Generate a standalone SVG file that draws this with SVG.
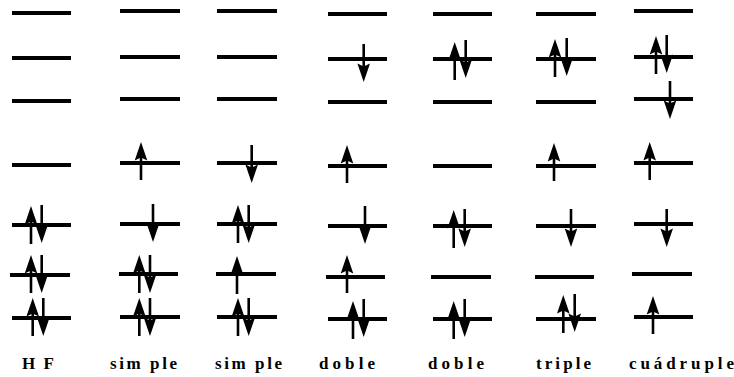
<svg xmlns="http://www.w3.org/2000/svg" xmlns:xlink="http://www.w3.org/1999/xlink" width="734" height="377" viewBox="0 0 734 377">
<style>
.lv{stroke:#000;stroke-width:4;fill:none}
.sh{stroke:#000;stroke-width:2.6;fill:none}
.hd{fill:#000;stroke:none}
.lb{font-family:"Liberation Serif","Times New Roman",serif;font-weight:bold;font-size:17px;fill:#000}
</style>
<defs>
<g id="up"><line class="sh" x1="0" y1="14" x2="0" y2="38"/><polygon class="hd" points="0,0 6.3,18.5 0,15.5 -6.3,18.5"/></g>
<g id="dn"><line class="sh" x1="0" y1="-14" x2="0" y2="-38"/><polygon class="hd" points="0,0 6.3,-18.5 0,-15.5 -6.3,-18.5"/></g>
</defs>
<rect width="734" height="377" fill="#fff"/>
<g id="col-hf">
<line class="lv" x1="12" y1="13" x2="71" y2="13"/>
<line class="lv" x1="12" y1="58" x2="71" y2="58"/>
<line class="lv" x1="12" y1="101" x2="71" y2="101"/>
<line class="lv" x1="12" y1="165" x2="71" y2="165"/>
<line class="lv" x1="12" y1="225" x2="71" y2="225"/>
<line class="lv" x1="10" y1="275" x2="70" y2="275"/>
<line class="lv" x1="12" y1="318" x2="71" y2="318"/>
<use xlink:href="#up" x="31" y="206"/><use xlink:href="#dn" x="41.7" y="243"/>
<use xlink:href="#up" x="31" y="255"/><use xlink:href="#dn" x="41.7" y="293"/>
<use xlink:href="#up" x="32.7" y="298"/><use xlink:href="#dn" x="43.3" y="336"/>
</g>
<g id="col-simple1">
<line class="lv" x1="120" y1="11" x2="180" y2="11"/>
<line class="lv" x1="120" y1="57" x2="180" y2="57"/>
<line class="lv" x1="120" y1="99" x2="180" y2="99"/>
<line class="lv" x1="120" y1="163" x2="180" y2="163"/>
<line class="lv" x1="120" y1="224" x2="180" y2="224"/>
<line class="lv" x1="119" y1="274" x2="178" y2="274"/>
<line class="lv" x1="120" y1="317" x2="180" y2="317"/>
<use xlink:href="#up" x="141" y="142"/>
<use xlink:href="#dn" x="153" y="242"/>
<use xlink:href="#up" x="139.3" y="255"/><use xlink:href="#dn" x="150" y="293"/>
<use xlink:href="#up" x="139.3" y="298"/><use xlink:href="#dn" x="150" y="336"/>
</g>
<g id="col-simple2">
<line class="lv" x1="217" y1="11" x2="277" y2="11"/>
<line class="lv" x1="217" y1="57" x2="277" y2="57"/>
<line class="lv" x1="217" y1="99" x2="277" y2="99"/>
<line class="lv" x1="217" y1="163" x2="277" y2="163"/>
<line class="lv" x1="217" y1="224" x2="277" y2="224"/>
<line class="lv" x1="216" y1="274" x2="276" y2="274"/>
<line class="lv" x1="217" y1="317" x2="277" y2="317"/>
<use xlink:href="#dn" x="251.7" y="183"/>
<use xlink:href="#up" x="238" y="205"/><use xlink:href="#dn" x="248.7" y="243"/>
<use xlink:href="#up" x="237" y="256"/>
<use xlink:href="#up" x="238" y="298"/><use xlink:href="#dn" x="248.7" y="336"/>
</g>
<g id="col-doble1">
<line class="lv" x1="328" y1="14" x2="387" y2="14"/>
<line class="lv" x1="328" y1="59" x2="387" y2="59"/>
<line class="lv" x1="328" y1="102" x2="387" y2="102"/>
<line class="lv" x1="328" y1="166" x2="387" y2="166"/>
<line class="lv" x1="328" y1="226" x2="387" y2="226"/>
<line class="lv" x1="326" y1="277" x2="385" y2="277"/>
<line class="lv" x1="328" y1="319" x2="387" y2="319"/>
<use xlink:href="#dn" x="363.7" y="82"/>
<use xlink:href="#up" x="347" y="145"/>
<use xlink:href="#dn" x="365" y="244"/>
<use xlink:href="#up" x="347" y="255"/>
<use xlink:href="#up" x="353" y="301"/><use xlink:href="#dn" x="363.7" y="337"/>
</g>
<g id="col-doble2">
<line class="lv" x1="433" y1="14" x2="492" y2="14"/>
<line class="lv" x1="433" y1="59" x2="492" y2="59"/>
<line class="lv" x1="433" y1="102" x2="492" y2="102"/>
<line class="lv" x1="433" y1="166" x2="492" y2="166"/>
<line class="lv" x1="433" y1="226" x2="492" y2="226"/>
<line class="lv" x1="431" y1="277" x2="491" y2="277"/>
<line class="lv" x1="433" y1="319" x2="492" y2="319"/>
<use xlink:href="#up" x="454.7" y="42"/><use xlink:href="#dn" x="465.7" y="78"/>
<use xlink:href="#up" x="453.7" y="210"/><use xlink:href="#dn" x="464.7" y="247"/>
<use xlink:href="#up" x="453.7" y="301"/><use xlink:href="#dn" x="464.7" y="337"/>
</g>
<g id="col-triple">
<line class="lv" x1="536" y1="14" x2="596" y2="14"/>
<line class="lv" x1="536" y1="59" x2="596" y2="59"/>
<line class="lv" x1="536" y1="102" x2="596" y2="102"/>
<line class="lv" x1="536" y1="166" x2="596" y2="166"/>
<line class="lv" x1="536" y1="226" x2="596" y2="226"/>
<line class="lv" x1="535" y1="277" x2="594" y2="277"/>
<line class="lv" x1="536" y1="319" x2="596" y2="319"/>
<use xlink:href="#up" x="555" y="39"/><use xlink:href="#dn" x="566.7" y="76"/>
<use xlink:href="#up" x="554" y="143"/>
<use xlink:href="#dn" x="571" y="247"/>
<use xlink:href="#up" x="563.3" y="295"/><use xlink:href="#dn" x="574.7" y="332"/>
</g>
<g id="col-cuadruple">
<line class="lv" x1="634" y1="11" x2="693" y2="11"/>
<line class="lv" x1="634" y1="57" x2="693" y2="57"/>
<line class="lv" x1="634" y1="99" x2="693" y2="99"/>
<line class="lv" x1="634" y1="163" x2="693" y2="163"/>
<line class="lv" x1="634" y1="224" x2="693" y2="224"/>
<line class="lv" x1="632" y1="274" x2="692" y2="274"/>
<line class="lv" x1="634" y1="317" x2="693" y2="317"/>
<use xlink:href="#up" x="656" y="36"/><use xlink:href="#dn" x="666.7" y="73"/>
<use xlink:href="#dn" x="670" y="119"/>
<use xlink:href="#up" x="649.7" y="142"/>
<use xlink:href="#dn" x="666.7" y="247"/>
<use xlink:href="#up" x="653" y="296"/>
</g>
<g id="labels">
<text class="lb" x="22" y="369" textLength="32" lengthAdjust="spacing">H F</text>
<text class="lb" x="110" y="369" textLength="67" lengthAdjust="spacing">sim ple</text>
<text class="lb" x="215" y="369" textLength="67" lengthAdjust="spacing">sim ple</text>
<text class="lb" x="319" y="369" textLength="56" lengthAdjust="spacing">doble</text>
<text class="lb" x="428" y="369" textLength="56" lengthAdjust="spacing">doble</text>
<text class="lb" x="536" y="369" textLength="55" lengthAdjust="spacing">triple</text>
<text class="lb" x="629" y="369" textLength="105" lengthAdjust="spacing">cuádruple</text>
</g>
</svg>
